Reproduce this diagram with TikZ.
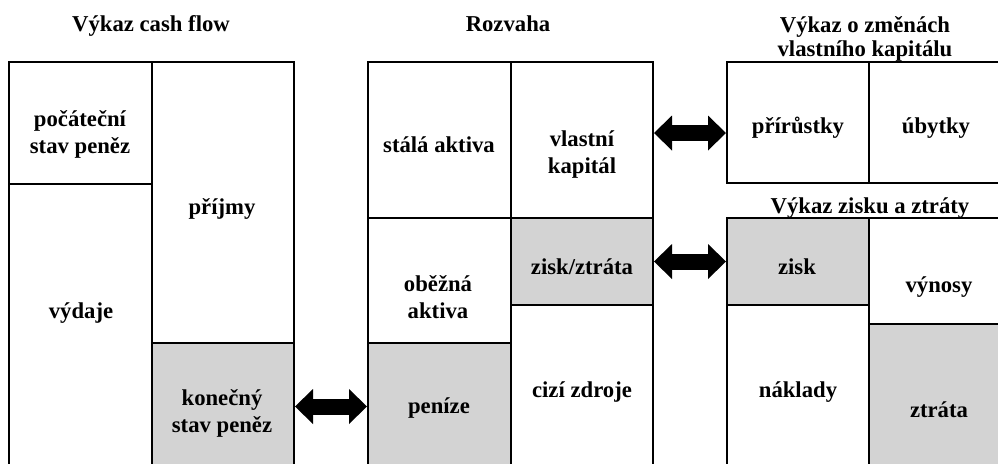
\documentclass[tikz,border=0pt]{standalone}
\usepackage{fontspec}
\setmainfont{Liberation Serif}
\usetikzlibrary{arrows.meta,fit}
\definecolor{cellgray}{RGB}{211,211,211}

\begin{document}
\begin{tikzpicture}[x=0.5pt, y=-0.5pt,
  font=\bfseries\fontsize{11.35}{13.5}\selectfont,
  cell/.style={draw=black, line width=1pt, fill=white, inner sep=0pt, fit={#1}},
  shaded/.style={cell={#1}, fill=cellgray},
  lbl/.style={align=center, inner sep=0pt},
  heading/.style={align=center, inner sep=0pt},
  dblarrow/.style={line width=8pt,
    {Triangle[length=9pt,width=17.5pt,line width=0pt]}-{Triangle[length=9pt,width=17.5pt,line width=0pt]}}]
  \useasboundingbox (0,0) rectangle (998,463);
  \clip (0,0) rectangle (998,463);
  % Vykaz cash flow
  \node[heading, anchor=base] (cfT) at (151,31) {Výkaz cash flow};
  \node[cell={(9,62)(152,184)}] (poc) {};
  \node[cell={(9,184)(152,470)}] (vyd) {};
  \node[cell={(152,62)(294,343)}] (prij) {};
  \node[shaded={(152,343)(294,470)}] (konec) {};
  \node[lbl] (pocL) at (80,134) {počáteční\\stav peněz};
  \node[lbl] (vydL) at (81,313) {výdaje};
  \node[lbl] (prijL) at (222,209) {příjmy};
  \node[lbl] (konecL) at (222,413) {konečný\\stav peněz};
  % Rozvaha
  \node[heading, anchor=base] (rozT) at (508,31) {Rozvaha};
  \node[cell={(368,62)(511,218)}] (sa) {};
  \node[cell={(368,218)(511,343)}] (oa) {};
  \node[shaded={(368,343)(511,470)}] (pen) {};
  \node[cell={(511,62)(653,218)}] (vk) {};
  \node[shaded={(511,218)(653,305)}] (zz) {};
  \node[cell={(511,305)(653,470)}] (cz) {};
  \node[lbl] (saL) at (439,145) {stálá aktiva};
  \node[lbl] (oaL) at (438,297) {oběžná\\aktiva};
  \node[lbl] (penL) at (439,408) {peníze};
  \node[lbl] (vkL) at (582,155) {vlastní\\kapitál};
  \node[lbl] (zzL) at (582,267) {zisk/ztráta};
  \node[lbl] (czL) at (582,392) {cizí zdroje};
  % Vykaz o zmenach vlastniho kapitalu
  \node[heading, font=\bfseries\fontsize{11.35}{11.75}\selectfont] (vkT) at (865,39) {Výkaz o změnách\\vlastního kapitálu};
  \node[cell={(727,62)(869,183)}] (prir) {};
  \node[cell={(869,62)(1005,183)}] (ubyt) {};
  \node[lbl] (prirL) at (798,128) {přírůstky};
  \node[lbl] (ubytL) at (936,128) {úbytky};
  % Vykaz zisku a ztraty
  \node[heading] (vzT) at (870,208) {Výkaz zisku a ztráty};
  \node[shaded={(727,218)(869,305)}] (zisk) {};
  \node[cell={(727,305)(869,470)}] (nakl) {};
  \node[cell={(869,218)(1005,324)}] (vyn) {};
  \node[shaded={(869,324)(1005,470)}] (ztr) {};
  \node[lbl] (ziskL) at (797,267) {zisk};
  \node[lbl] (naklL) at (798,392) {náklady};
  \node[lbl] (vynL) at (939,287) {výnosy};
  \node[lbl] (ztrL) at (939,410) {ztráta};
  % Links
  \draw[dblarrow] (konec) -- (pen);
  \draw[dblarrow] ([yshift=3.5pt]vk.east) -- ([yshift=-5.25pt]prir.west);
  \draw[dblarrow] (zz) -- (zisk);
\end{tikzpicture}
\end{document}
